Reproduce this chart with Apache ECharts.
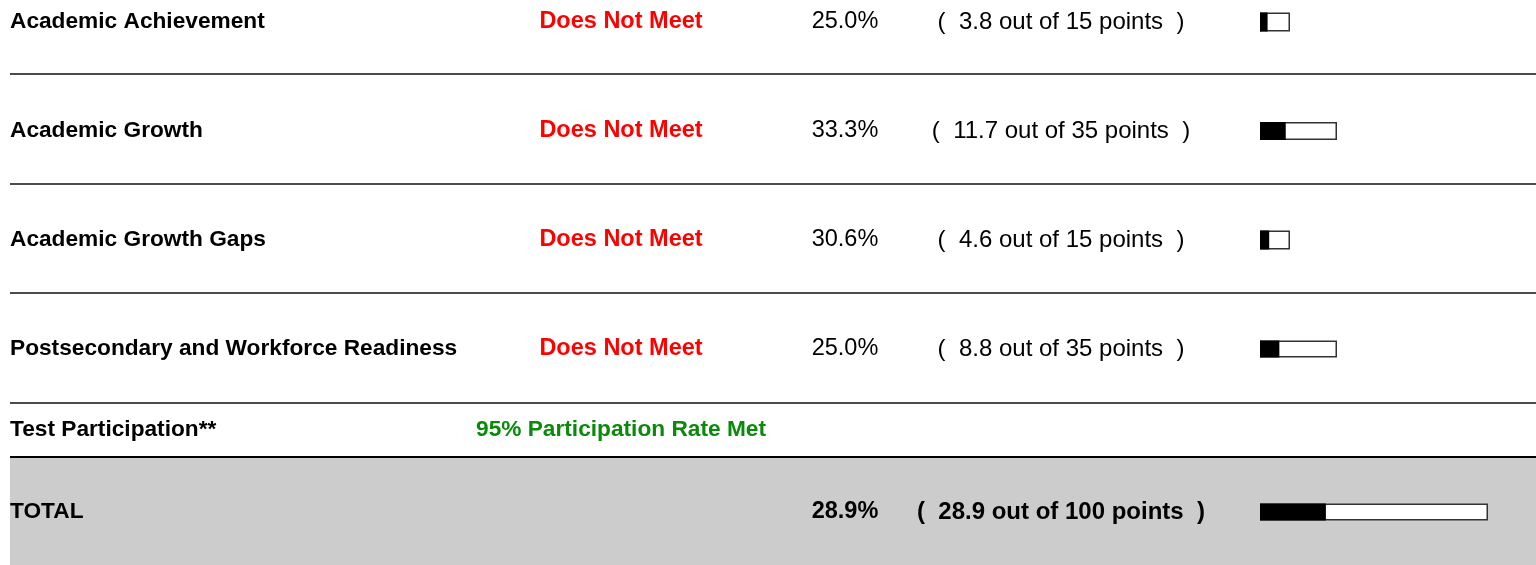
<!DOCTYPE html>
<html>
<head>
<meta charset="utf-8">
<script src="https://cdn.jsdelivr.net/npm/echarts@6/dist/echarts.min.js"></script>
<style>
  html, body { margin: 0; padding: 0; background: #ffffff; }
  #chart { width: 1536px; height: 565px; }
</style>
</head>
<body>
<div id="chart"></div>
<script>
// ---- data ----
const categories = ['Academic Achievement', 'Academic Growth', 'Academic Growth Gaps',
  'Postsecondary and Workforce Readiness', 'Test Participation**', 'TOTAL'];
const ratings = ['Does Not Meet', 'Does Not Meet', 'Does Not Meet', 'Does Not Meet',
  '95% Participation Rate Met', ''];
const percents = ['25.0%', '33.3%', '30.6%', '25.0%', '', '28.9%'];
const earned = [3.8, 11.7, 4.6, 8.8, null, 28.9];
const possible = [15, 35, 15, 35, null, 100];
const pointsText = ['(  3.8 out of 15 points  )', '(  11.7 out of 35 points  )', '(  4.6 out of 15 points  )',
  '(  8.8 out of 35 points  )', '', '(  28.9 out of 100 points  )'];

// ---- layout ----
const rowY = [22, 131, 240, 349, 430, 512];
const barW = [30, 77, 30, 77, 0, 228];
const barH = [19, 18, 19, 17, 0, 17];
const sepY = [74, 184, 293, 403];
const FONT = '"Liberation Sans", Arial, sans-serif';
const FS = 22.7;
const FS2 = 24;

const chart = echarts.init(document.getElementById('chart'), null, { renderer: 'canvas' });

const grids = [], xAxes = [], yAxes = [], series = [];
let gi = 0;
categories.forEach((c, i) => {
  if (possible[i] == null) return;
  grids.push({ left: 1260, top: rowY[i] - barH[i] / 2, width: barW[i], height: barH[i], containLabel: false });
  xAxes.push({ type: 'value', gridIndex: gi, min: 0, max: possible[i], show: false });
  yAxes.push({ type: 'category', gridIndex: gi, data: [c], show: false });
  series.push({
    type: 'bar', xAxisIndex: gi, yAxisIndex: gi, data: [possible[i]], barWidth: '100%',
    itemStyle: { color: '#ffffff', borderColor: '#333333', borderWidth: 1.5 }, silent: true, z: 3
  });
  series.push({
    type: 'bar', xAxisIndex: gi, yAxisIndex: gi, data: [earned[i]], barWidth: '100%', barGap: '-100%',
    itemStyle: { color: '#000000' }, silent: true, z: 4
  });
  gi++;
});

const graphic = [];
graphic.push({ type: 'rect', shape: { x: 10, y: 458, width: 1526, height: 107 }, style: { fill: '#cccccc' }, z: 0 });
sepY.forEach(y => graphic.push({ type: 'line', shape: { x1: 10, y1: y, x2: 1536, y2: y }, style: { stroke: '#111', lineWidth: 1.6 }, z: 1 }));
graphic.push({ type: 'line', shape: { x1: 10, y1: 457, x2: 1536, y2: 457 }, style: { stroke: '#000', lineWidth: 2.2 }, z: 1 });

categories.forEach((c, i) => {
  const isTotal = i === categories.length - 1;
  graphic.push({ type: 'text', x: 10, y: rowY[i], z: 5,
    style: { text: c, font: `bold ${FS}px ${FONT}`, fill: '#000', textAlign: 'left', textVerticalAlign: 'middle' } });
  if (ratings[i]) {
    graphic.push({ type: 'text', x: 621, y: rowY[i], z: 5,
      style: { text: ratings[i], font: `bold ${i === 4 ? FS : 23.5}px ${FONT}`, fill: i === 4 ? '#0a8a0a' : '#ff0000', textAlign: 'center', textVerticalAlign: 'middle' } });
  }
  if (percents[i]) {
    graphic.push({ type: 'text', x: 845, y: rowY[i], z: 5,
      style: { text: percents[i], font: `${isTotal ? 'bold ' : ''}${FS2 - 0.5}px ${FONT}`, fill: '#000', textAlign: 'center', textVerticalAlign: 'middle' } });
  }
  if (pointsText[i]) {
    graphic.push({ type: 'text', x: 1061, y: rowY[i], z: 5,
      style: { text: pointsText[i], font: `${isTotal ? 'bold ' : ''}${FS2}px ${FONT}`, fill: '#000', textAlign: 'center', textVerticalAlign: 'middle' } });
  }
});

chart.setOption({
  animation: false,
  backgroundColor: '#ffffff',
  grid: grids,
  xAxis: xAxes,
  yAxis: yAxes,
  series: series,
  graphic: graphic
});
</script>
</body>
</html>
